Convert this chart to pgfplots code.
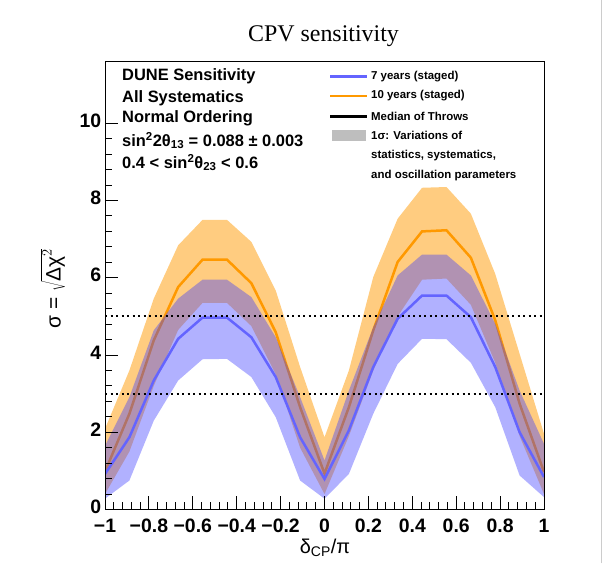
\documentclass[border=0pt]{standalone}
\usepackage{fontspec}
\setmainfont{Liberation Sans}
\newfontfamily\serif{Liberation Serif}
\usepackage{pgfplots}
\usepackage{pgfplotstable}
\pgfplotsset{compat=1.18}

\definecolor{bline}{RGB}{100,100,255}
\definecolor{bband}{RGB}{60,60,255}
\definecolor{oline}{RGB}{255,153,0}
\definecolor{oband}{RGB}{255,204,128}
\definecolor{legray}{RGB}{190,190,190}

% medians for 7 years (bmed) and 10 years (omed), x = dCP/pi
\pgfplotstableread{
x        bmed omed
-1.0000  0.92 0.98
-0.8889  1.87 2.48
-0.7778  3.34 4.38
-0.6667  4.42 5.76
-0.5556  4.97 6.47
-0.4444  4.97 6.47
-0.3333  4.46 5.86
-0.2222  3.43 4.59
-0.1111  1.87 2.65
 0.0000  0.79 0.93
 0.1111  2.05 2.65
 0.2222  3.69 4.64
 0.3333  4.94 6.41
 0.4444  5.54 7.20
 0.5556  5.54 7.23
 0.6667  4.98 6.52
 0.7778  3.69 4.90
 0.8889  2.00 2.74
 1.0000  0.84 0.97
}\medians

\begin{document}
\begin{tikzpicture}[x=1bp,y=1bp]
\path (0,0) rectangle (604,563);
\draw[black!20, line width=1bp] (601,0) -- (601,563);

\begin{axis}[
    at={(105bp,54bp)}, anchor=south west,
    scale only axis, width=439bp, height=448bp,
    xmin=-1, xmax=1, ymin=0, ymax=11.6,
    xtick={-1,-0.8,-0.6,-0.4,-0.2,0,0.2,0.4,0.6,0.8,1},
    xticklabels={−1,−0.8,−0.6,−0.4,−0.2,0,0.2,0.4,0.6,0.8,1},
    ytick={0,2,4,6,8,10},
    minor tick num=4,
    tick pos=left,
    major tick length=13bp, minor tick length=7bp,
    tick style={black, line width=1bp},
    axis line style={line width=1bp},
    ticklabel style={font=\fontsize{19.5}{24}\selectfont\bfseries, inner sep=0.5bp},
    xticklabel style={yshift=-8.5bp},
    yticklabel style={xshift=-3bp, yshift=2.5bp},
    /pgf/number format/assume math mode=true,
    axis on top,
]
% 10 years: 1 sigma band (upper edge, then lower edge backwards)
\addplot[fill=oband, draw=none] coordinates {
(-1,2.09) (-0.8889,3.60) (-0.7778,5.46) (-0.6667,6.84) (-0.5556,7.50)
(-0.4444,7.50) (-0.3333,6.93) (-0.2222,5.67) (-0.1111,3.69) (0,1.87)
(0.1111,3.60) (0.2222,6.02) (0.3333,7.53) (0.4444,8.33) (0.5556,8.35)
(0.6667,7.66) (0.7778,6.10) (0.8889,4.03) (1,1.96)
(1,0.40) (0.8889,1.90) (0.7778,3.80) (0.6667,5.30) (0.5556,5.98)
(0.4444,5.95) (0.3333,5.00) (0.2222,3.60) (0.1111,1.90) (0,0.40)
(-0.1111,1.60) (-0.2222,3.50) (-0.3333,4.75) (-0.4444,5.35) (-0.5556,5.35)
(-0.6667,4.65) (-0.7778,3.20) (-0.8889,1.50) (-1,0.40)
} -- cycle;
\addplot[oline, line width=2.5bp] table[x=x, y=omed] {\medians};
% 7 years: 1 sigma band
\addplot[fill=bband, fill opacity=0.4, draw=none] coordinates {
(-1,1.65) (-0.8889,2.91) (-0.7778,4.64) (-0.6667,5.46) (-0.5556,5.95)
(-0.4444,5.95) (-0.3333,5.50) (-0.2222,4.46) (-0.1111,2.91) (0,1.27)
(0.1111,3.08) (0.2222,4.72) (0.3333,6.06) (0.4444,6.60) (0.5556,6.60)
(0.6667,6.06) (0.7778,4.81) (0.8889,3.08) (1,1.70)
(1,0.32) (0.8889,0.88) (0.7778,2.65) (0.6667,3.80) (0.5556,4.41)
(0.4444,4.42) (0.3333,3.77) (0.2222,2.48) (0.1111,0.92) (0,0.28)
(-0.1111,0.75) (-0.2222,2.39) (-0.3333,3.43) (-0.4444,3.90) (-0.5556,3.89)
(-0.6667,3.34) (-0.7778,2.30) (-0.8889,0.75) (-1,0.28)
} -- cycle;
\addplot[bline, line width=2.5bp] table[x=x, y=bmed] {\medians};
\addplot[black, line width=1.8bp, dash pattern=on 2.2bp off 3.3bp] coordinates {(-1,5) (1,5)};
\addplot[black, line width=1.8bp, dash pattern=on 2.2bp off 3.3bp] coordinates {(-1,3) (1,3)};
\end{axis}

% title and axis titles
\node[font=\serif\fontsize{24}{28}\selectfont] at (323.5,527) {CPV sensitivity};
\node[anchor=base, font=\fontsize{20}{24}\selectfont] at (325,10) {δ\textsubscript{CP}/π};
\node[rotate=90, font=\fontsize{21}{24}\selectfont] at (53,275) {σ = $\sqrt{\hbox{Δχ}^{2}}$};

% text block
\begin{scope}[every node/.style={anchor=west, inner sep=0pt, font=\fontsize{16.5}{20}\selectfont\bfseries}]
\node at (122,487) {DUNE Sensitivity};
\node at (122,465) {All Systematics};
\node at (122,445) {Normal Ordering};
\node at (122,423) {sin\textsuperscript{2}2θ\textsubscript{13} = 0.088 ± 0.003};
\node at (122,401) {0.4 < sin\textsuperscript{2}θ\textsubscript{23} < 0.6};
\end{scope}

% legend
\draw[bline, line width=2.5bp] (330,487) -- (367,487);
\draw[oline, line width=2.5bp] (330,467.5) -- (367,467.5);
\draw[black, line width=2.5bp] (330,447) -- (367,447);
\fill[legray] (332,422.5) rectangle (366,433.5);
\begin{scope}[every node/.style={anchor=west, inner sep=0pt, font=\fontsize{11.5}{14}\selectfont\bfseries}]
\node at (371,487) {7 years (staged)};
\node at (371,467.5) {10 years (staged)};
\node at (371,447) {Median of Throws};
\node at (371,428) {1σ: Variations of};
\node at (371,408) {statistics, systematics,};
\node at (371,388) {and oscillation parameters};
\end{scope}
\end{tikzpicture}
\end{document}
